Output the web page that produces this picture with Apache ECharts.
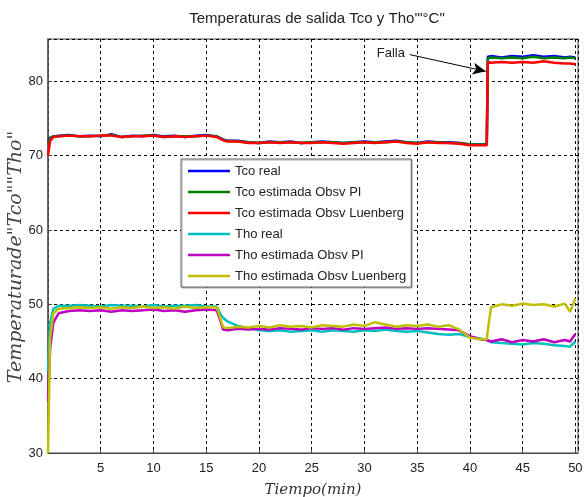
<!DOCTYPE html>
<html>
<head>
<meta charset="utf-8">
<script src="https://cdn.jsdelivr.net/npm/echarts@6/dist/echarts.min.js"></script>
<style>
  html, body { margin: 0; padding: 0; background: #fff; }
</style>
</head>
<body>
<div id="chart" style="width:584px;height:497px;"></div>
<script>
// tiempo (min)
var tiempo = [0, 0.2, 0.5, 1, 2, 3, 4, 5, 6, 7, 8, 9, 10, 11, 12, 13, 14, 15, 16, 16.3, 16.6,
  17, 18, 19, 20, 21, 22, 23, 24, 25, 26, 27, 28, 29, 30, 31, 32, 33, 34, 35, 36, 37, 38, 39, 40, 41,
  41.6, 41.7, 42, 43, 44, 45, 46, 47, 48, 49, 49.5, 50];

var tcoReal = [72.0, 72.4, 72.6, 72.7, 72.8, 72.6, 72.7, 72.6, 72.9, 72.5, 72.7, 72.6, 72.8, 72.6, 72.7, 72.5, 72.7, 72.8, 72.6, 72.4, 72.2,
  72.0, 72.0, 71.8, 71.7, 71.9, 71.8, 71.9, 71.7, 71.8, 71.9, 71.8, 71.7, 71.8, 71.9, 71.8, 71.9, 72.0, 71.8, 71.7, 71.9, 71.8, 71.8, 71.7, 71.5, 71.5,
  71.5, 83.3, 83.4, 83.2, 83.4, 83.3, 83.5, 83.3, 83.4, 83.2, 83.3, 83.2];

var tcoPI = [71.5, 72.3, 72.6, 72.6, 72.7, 72.6, 72.6, 72.7, 72.8, 72.5, 72.6, 72.7, 72.7, 72.5, 72.6, 72.6, 72.6, 72.7, 72.6, 72.3, 72.1,
  72.0, 71.9, 71.8, 71.7, 71.8, 71.8, 71.8, 71.7, 71.8, 71.8, 71.8, 71.7, 71.8, 71.8, 71.8, 71.8, 71.9, 71.8, 71.7, 71.8, 71.8, 71.7, 71.7, 71.5, 71.5,
  71.5, 83.1, 83.2, 83.1, 83.2, 83.1, 83.3, 83.1, 83.2, 83.1, 83.2, 83.1];

var tcoLuen = [70.0, 72.0, 72.5, 72.6, 72.7, 72.6, 72.6, 72.7, 72.7, 72.5, 72.6, 72.6, 72.7, 72.5, 72.6, 72.5, 72.6, 72.7, 72.5, 72.3, 72.1,
  71.9, 71.9, 71.7, 71.7, 71.8, 71.7, 71.8, 71.7, 71.7, 71.8, 71.7, 71.6, 71.7, 71.8, 71.7, 71.8, 71.9, 71.7, 71.6, 71.8, 71.7, 71.7, 71.6, 71.4, 71.4,
  71.4, 82.6, 82.5, 82.6, 82.5, 82.6, 82.5, 82.7, 82.5, 82.4, 82.4, 82.3];

var thoReal = [41.0, 47.5, 49.4, 49.8, 49.8, 49.9, 49.8, 49.7, 49.9, 49.8, 49.8, 49.7, 49.9, 49.7, 49.8, 49.8, 49.9, 49.7, 49.7, 48.8, 48.2,
  47.7, 47.1, 46.8, 46.5, 46.4, 46.5, 46.3, 46.4, 46.5, 46.3, 46.5, 46.4, 46.3, 46.5, 46.4, 46.6, 46.4, 46.3, 46.4, 46.2, 46.0, 45.9, 46.0, 45.6, 45.4,
  45.2, 45.1, 44.9, 44.8, 44.7, 44.6, 44.8, 44.7, 44.5, 44.4, 44.3, 45.0];

var thoPI = [37.0, 44.0, 47.5, 48.8, 49.1, 49.2, 49.1, 49.2, 49.0, 49.2, 49.1, 49.2, 49.3, 49.1, 49.2, 49.0, 49.2, 49.3, 49.2, 48.0, 46.6,
  46.5, 46.7, 46.6, 46.7, 46.6, 46.8, 46.7, 46.6, 46.8, 46.7, 46.8, 46.6, 46.8, 46.7, 46.8, 46.9, 46.7, 46.8, 46.7, 46.8, 46.7, 46.6, 46.5, 45.7, 45.3,
  45.2, 45.1, 45.0, 45.3, 44.9, 45.2, 45.0, 45.3, 44.9, 45.2, 45.0, 46.0];

var thoLuen = [30.0, 45.5, 48.8, 49.4, 49.5, 49.6, 49.5, 49.6, 49.4, 49.6, 49.5, 49.7, 49.5, 49.6, 49.4, 49.7, 49.5, 49.6, 49.6, 48.3, 46.9,
  46.8, 47.0, 46.9, 47.1, 46.9, 47.2, 47.0, 47.1, 46.9, 47.2, 47.1, 47.0, 47.3, 47.1, 47.6, 47.3, 47.0, 47.2, 47.1, 47.3, 47.0, 47.2, 46.6, 45.5, 45.3,
  45.3, 46.5, 49.6, 50.0, 49.8, 50.1, 49.9, 50.0, 49.7, 50.1, 49.0, 50.8];

var nombres = ['Tco real', 'Tco estimada Obsv PI', 'Tco estimada Obsv Luenberg',
  'Tho real', 'Tho estimada Obsv PI', 'Tho estimada Obsv Luenberg'];
var colores = ['#0000ff', '#008000', '#ff0000', '#00bfbf', '#bf00bf', '#bfbf00'];
var valores = [tcoReal, tcoPI, tcoLuen, thoReal, thoPI, thoLuen];

// anotacion "Falla" (inicio y punta de la flecha, en coordenadas de datos)
var fallaDesde = [34.3, 83.6];
var fallaHasta = [41.5, 81.35];

var chart = echarts.init(document.getElementById('chart'));

var series = [];
for (var i = 0; i < valores.length; i++) {
  var pts = [];
  for (var j = 0; j < tiempo.length; j++) {
    pts.push([tiempo[j], valores[i][j]]);
  }
  var s = {
    name: nombres[i],
    type: 'line',
    data: pts,
    symbol: 'none',
    color: colores[i],
    lineStyle: { width: 2.5, color: colores[i] },
    animation: false
  };
  if (i == 2) {
    s.markLine = {
      silent: true,
      symbol: ['none', 'arrow'],
      symbolSize: [9, 13],
      lineStyle: { color: '#000', width: 1, type: 'solid' },
      label: {
        show: true,
        position: 'start',
        formatter: 'Falla',
        color: '#222',
        fontSize: 13,
        fontFamily: 'Liberation Sans'
      },
      data: [[{ coord: fallaDesde }, { coord: fallaHasta }]]
    };
  }
  series.push(s);
}

var option = {
  animation: false,
  title: {
    text: 'Temperaturas de salida Tco y Tho\'"°C"',
    left: 312,
    textAlign: 'center',
    top: 6,
    textStyle: { fontFamily: 'Liberation Sans', fontSize: 15, fontWeight: 'normal', color: '#222' }
  },
  legend: {
    orient: 'vertical',
    left: 181,
    top: 159,
    icon: 'rect',
    itemWidth: 42,
    itemHeight: 2.5,
    itemGap: 5,
    itemTextGap: 3,
    padding: [4, 5, 3, 7],
    backgroundColor: '#fff',
    borderColor: '#666',
    borderWidth: 1,
    shadowColor: 'rgba(0,0,0,0.35)',
    shadowOffsetX: 1,
    shadowOffsetY: 1,
    shadowBlur: 1,
    textStyle: { fontFamily: 'Liberation Sans', fontSize: 13, lineHeight: 16, color: '#222' },
    data: nombres
  },
  grid: {
    left: 48,
    right: 6,
    top: 39,
    bottom: 44,
    containLabel: false,
    outerBoundsMode: 'none',
    show: true,
    borderColor: '#444',
    borderWidth: 1
  },
  xAxis: {
    type: 'value',
    min: 0,
    max: 50.25,
    interval: 5,
    name: 'Tiempo(min)',
    nameLocation: 'middle',
    nameGap: 30,
    nameMoveOverlap: false,
    nameTextStyle: { fontFamily: 'DejaVu Serif', fontStyle: 'italic', fontSize: 15, color: '#333' },
    axisLine: { lineStyle: { color: '#444' } },
    axisTick: { inside: true, length: 4, lineStyle: { color: '#444' } },
    axisLabel: { showMinLabel: false, showMaxLabel: false, fontFamily: 'Liberation Sans', fontSize: 13, color: '#222', margin: 9 },
    splitLine: { show: true, lineStyle: { color: '#000', type: [3, 3], width: 1 } }
  },
  yAxis: {
    type: 'value',
    min: 30,
    max: 85.7,
    interval: 10,
    name: 'Temperaturade"Tco""Tho"',
    nameLocation: 'middle',
    nameGap: 22,
    nameMoveOverlap: false,
    nameTextStyle: { fontFamily: 'DejaVu Serif', fontStyle: 'italic', fontSize: 19, color: '#444', padding: [0, 22, 0, 0] },
    axisLine: { show: true, lineStyle: { color: '#555', width: 1.5 } },
    axisTick: { inside: true, length: 4, lineStyle: { color: '#444' } },
    axisLabel: { showMaxLabel: false, fontFamily: 'Liberation Sans', fontSize: 13, color: '#222', margin: 5 },
    splitLine: { show: true, lineStyle: { color: '#000', type: [3, 3], width: 1 } }
  },
  series: series
};

chart.setOption(option);
</script>
</body>
</html>
